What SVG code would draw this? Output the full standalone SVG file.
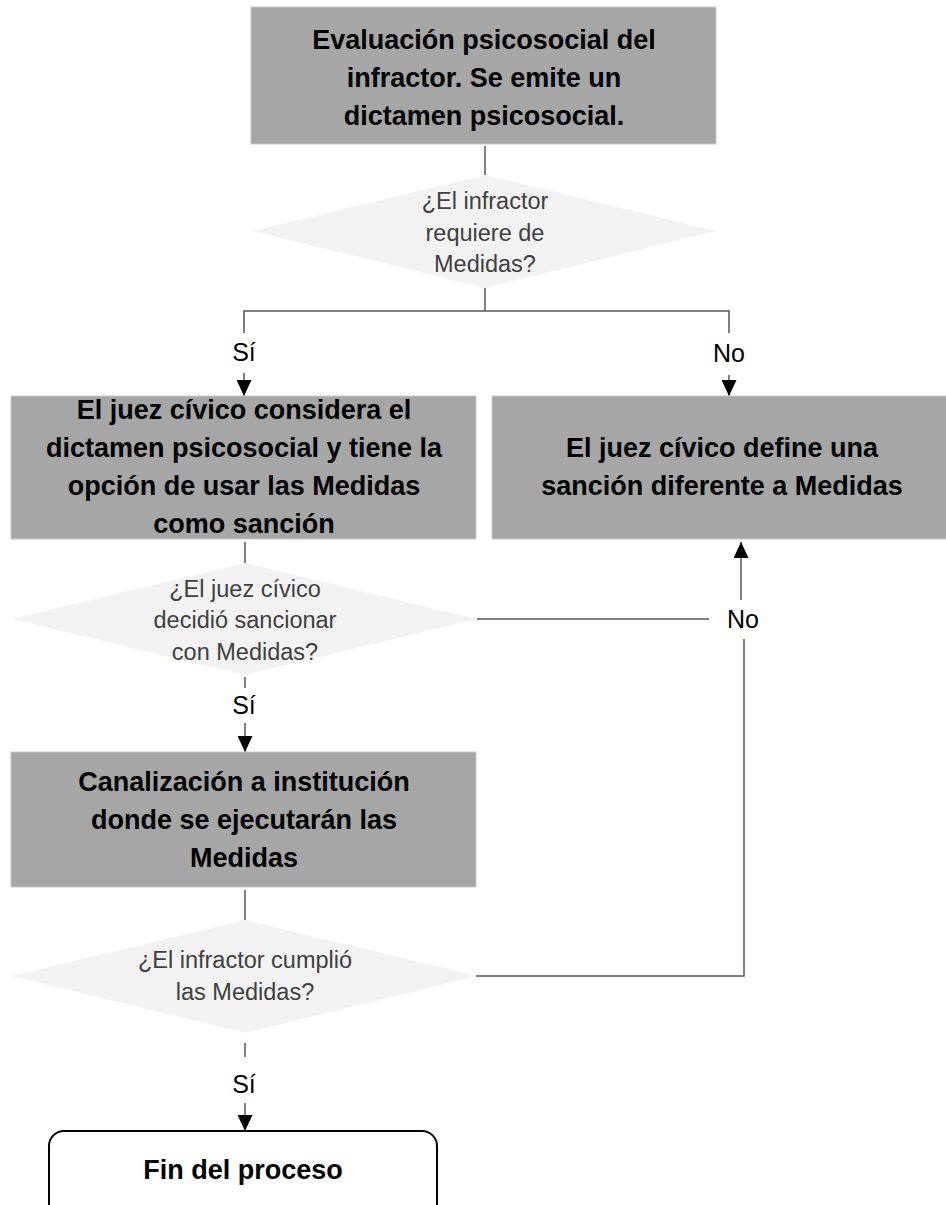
<svg xmlns="http://www.w3.org/2000/svg" width="946" height="1205" viewBox="0 0 946 1205">
<style>
.box{fill:#a6a6a6;stroke:#c9c9c9;stroke-width:1}
.dia{fill:#f2f2f2}
.end{fill:#ffffff;stroke:#000;stroke-width:2}
.bt{font-family:"Liberation Sans",Arial,sans-serif;font-weight:bold;font-size:27px;fill:#000;text-anchor:middle}
.dt{font-family:"Liberation Sans",Arial,sans-serif;font-size:23.5px;fill:#404040;text-anchor:middle}
.lb{font-family:"Liberation Sans",Arial,sans-serif;font-size:25px;fill:#000;text-anchor:middle}
.c{fill:none;stroke:#555;stroke-width:1.5}
</style>
<defs>
<marker id="ah" markerUnits="userSpaceOnUse" markerWidth="16" markerHeight="15" refX="16" refY="7.5" orient="auto">
<path d="M0,0 L16,7.5 L0,15 Z" fill="#000"/>
</marker>
</defs>
<rect width="946" height="1205" fill="#fff"/>
<g id="connectors">
<path class="c" d="M485,146 V175"/>
<path class="c" d="M485,288 V311 M244,333 V311 H729 V333"/>
<path class="c" d="M244,373 V396" marker-end="url(#ah)"/>
<path class="c" d="M729,375 V396" marker-end="url(#ah)"/>
<path class="c" d="M245,542 V563"/>
<path class="c" d="M245,677 V688"/>
<path class="c" d="M245,723 V752" marker-end="url(#ah)"/>
<path class="c" d="M477,619 H709"/>
<path class="c" d="M741,600 V542" marker-end="url(#ah)"/>
<path class="c" d="M744,639 V976 H476"/>
<path class="c" d="M245,890 V920"/>
<path class="c" d="M245,1043 V1057"/>
<path class="c" d="M245,1103 V1131" marker-end="url(#ah)"/>
<text class="lb" x="244" y="361">Sí</text>
<text class="lb" x="729" y="362">No</text>
<text class="lb" x="743" y="628">No</text>
<text class="lb" x="244" y="714">Sí</text>
<text class="lb" x="244" y="1093">Sí</text>
</g>
<g id="n1">
<rect class="box" x="251" y="7" width="465" height="137"/>
<text class="bt" x="484" y="49">Evaluación psicosocial del</text>
<text class="bt" x="484" y="87">infractor. Se emite un</text>
<text class="bt" x="484" y="125">dictamen psicosocial.</text>
</g>
<g id="d1">
<polygon class="dia" points="485,175 716,231 485,288 253,231"/>
<text class="dt" x="485" y="209">¿El infractor</text>
<text class="dt" x="485" y="241">requiere de</text>
<text class="dt" x="485" y="272">Medidas?</text>
</g>
<g id="n2">
<rect class="box" x="11" y="396" width="465" height="143"/>
<text class="bt" x="244" y="419">El juez cívico considera el</text>
<text class="bt" x="244" y="457">dictamen psicosocial y tiene la</text>
<text class="bt" x="244" y="495">opción de usar las Medidas</text>
<text class="bt" x="244" y="533">como sanción</text>
</g>
<g id="n4">
<rect class="box" x="492" y="396" width="460" height="143"/>
<text class="bt" x="722" y="457">El juez cívico define una</text>
<text class="bt" x="722" y="495">sanción diferente a Medidas</text>
</g>
<g id="d2">
<polygon class="dia" points="245,563 477,619 245,675 12,619"/>
<text class="dt" x="245" y="597">¿El juez cívico</text>
<text class="dt" x="245" y="628">decidió sancionar</text>
<text class="dt" x="245" y="660">con Medidas?</text>
</g>
<g id="n3">
<rect class="box" x="11" y="752" width="465" height="135"/>
<text class="bt" x="244" y="791">Canalización a institución</text>
<text class="bt" x="244" y="829">donde se ejecutarán las</text>
<text class="bt" x="244" y="867">Medidas</text>
</g>
<g id="d3">
<polygon class="dia" points="245,920 477,976 245,1033 12,976"/>
<text class="dt" x="245" y="968">¿El infractor cumplió</text>
<text class="dt" x="245" y="1000">las Medidas?</text>
</g>
<g id="n5">
<rect class="end" x="49" y="1131" width="388" height="100" rx="15" ry="15"/>
<text class="bt" x="243" y="1179">Fin del proceso</text>
</g>
</svg>
